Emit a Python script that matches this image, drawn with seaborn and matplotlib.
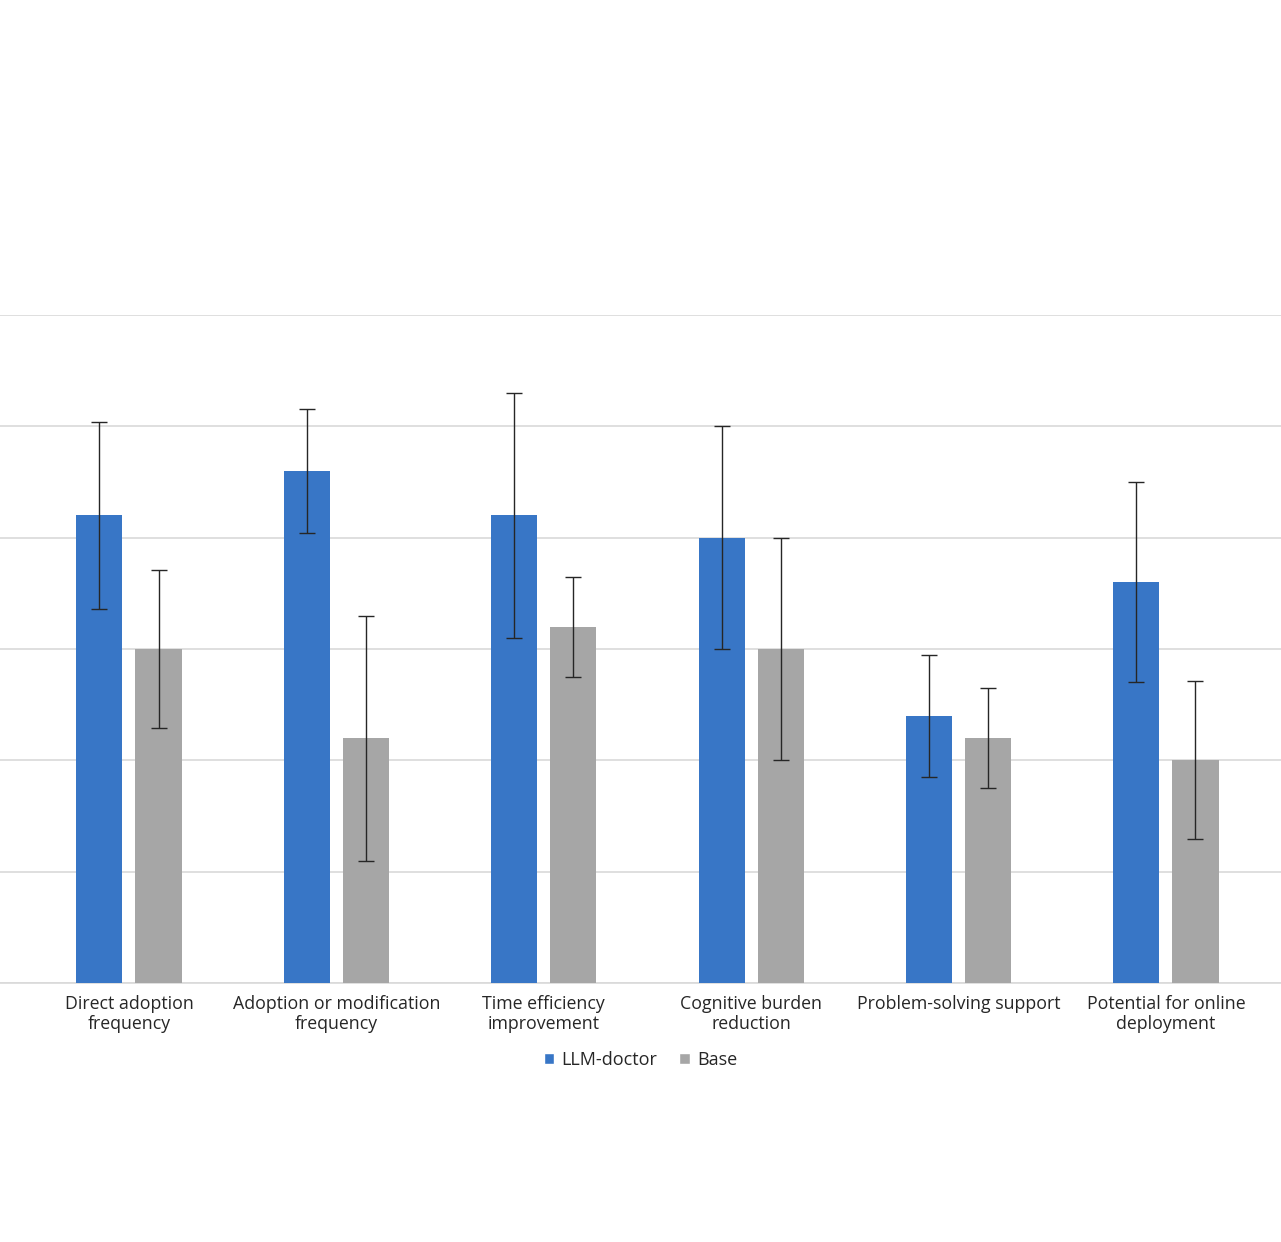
import pandas as pd
import seaborn as sns
import matplotlib.pyplot as plt
from matplotlib.patches import Patch

categories = ["Direct adoption\nfrequency", "Adoption or modification\nfrequency",
              "Time efficiency\nimprovement", "Cognitive burden\nreduction",
              "Problem-solving support", "Potential for online\ndeployment"]
series = ["LLM-doctor", "Base"]
llm_mean = [4.2, 4.6, 4.2, 4.0, 2.4, 3.6]
llm_err = [0.84, 0.56, 1.1, 1.0, 0.55, 0.9]
base_mean = [3.0, 2.2, 3.2, 3.0, 2.2, 2.0]
base_err = [0.71, 1.1, 0.45, 1.0, 0.45, 0.71]

colors = {"LLM-doctor": "#3876c6", "Base": "#a6a6a6"}

df = pd.DataFrame({
    "category": categories * 2,
    "group": ["LLM-doctor"] * 6 + ["Base"] * 6,
    "value": llm_mean + base_mean,
})
errs = llm_err + base_err

sns.set_style("white")
plt.rcParams['font.family'] = ['Open Sans', 'DejaVu Sans']

fig = plt.figure(figsize=(12.81, 12.42), dpi=100)
ax = fig.add_axes([0, 0.2085, 1.0, 0.5379])

sns.barplot(data=df, x="category", y="value", hue="group", palette=colors,
            saturation=1, width=0.57, gap=0.22, errorbar=None, ax=ax,
            legend=False, edgecolor="none", zorder=3)

# error bars at bar centres
bars = ax.patches[:12]
for bar, val, e in zip(bars, df["value"], errs):
    cx = bar.get_x() + bar.get_width() / 2
    ax.errorbar(cx, val, yerr=e, fmt="none", ecolor="#262626",
                elinewidth=1.0, capsize=6, capthick=1.0, zorder=4)

ax.set_ylim(0, 6)
ax.set_xlim(-0.622, 5.555)
ax.set_yticks(range(7))
ax.yaxis.grid(True, color="#d9d9d9", linewidth=1.2, zorder=0)
ax.set_axisbelow(True)
ax.tick_params(axis="y", left=False, labelleft=False)
ax.tick_params(axis="x", bottom=False, pad=5, labelsize=12.8, colors="#262626")
for lbl in ax.get_xticklabels():
    lbl.set_linespacing(1.15)
for s in ["top", "left", "right"]:
    ax.spines[s].set_visible(False)
ax.spines["bottom"].set_color("#d9d9d9")
ax.spines["bottom"].set_linewidth(1.2)
ax.set_xlabel("")
ax.set_ylabel("")

handles = [Patch(facecolor=colors[s], label=s) for s in series]
fig.legend(handles=handles, loc="center", bbox_to_anchor=(0.5, 1 - 1060 / 1242),
           ncol=2, frameon=False, fontsize=13, handlelength=0.6, handleheight=0.6,
           handletextpad=0.4, columnspacing=1.2, labelcolor="#262626")

fig.savefig("out.png", dpi=100)
